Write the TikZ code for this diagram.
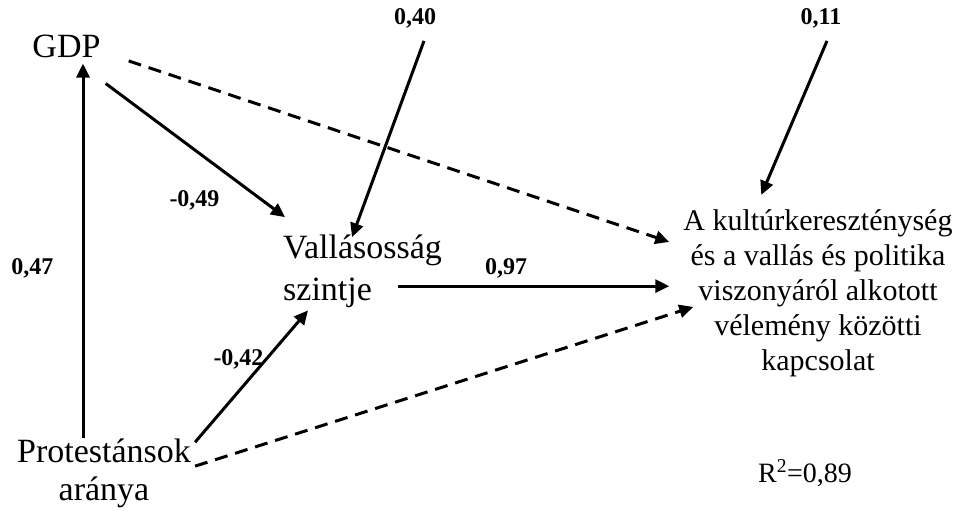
\documentclass[tikz,border=0pt]{standalone}
\usepackage{fontspec}
\setmainfont{Liberation Serif}
\usepackage{tikz}
\usetikzlibrary{arrows.meta}

\begin{document}
\begin{tikzpicture}[
        x=1pt, y=-1pt,
        arr/.style={-{Triangle[length=14pt,width=13pt]}, line width=3pt},
        dasharr/.style={arr, dash pattern=on 13pt off 8pt},
        var/.style={inner sep=0pt, font=\fontsize{34}{38}\selectfont},
        coef/.style={inner sep=0pt, anchor=base, font=\fontsize{24}{28}\selectfont\bfseries}
    ]
        \useasboundingbox (0,0) rectangle (956,511);

        % variables (base = last line)
        \node[var, anchor=base] (gdp) at (66.5,58) {GDP};
        \node[var, anchor=base west, align=left, font=\fontsize{34}{42}\selectfont] (vall) at (283,300) {Vallásosság\\szintje};
        \node[var, anchor=base, align=center] (prot) at (104,500) {Protestánsok\\aránya};
        \node[var, anchor=base, align=center, font=\fontsize{30}{35}\selectfont] (dv) at (818,370)
            {A kultúrkereszténység\\és a vallás és politika\\viszonyáról alkotott\\vélemény közötti\\kapcsolat};
        \node[var, anchor=base, font=\fontsize{28}{32}\selectfont] (r2) at (805,482) {R\textsuperscript{2}=0,89};

        % coefficients
        \node[coef] (e1) at (415,25) {0,40};
        \node[coef] (e2) at (821,25) {0,11};
        \node[coef] (c1) at (32.5,274) {0,47};
        \node[coef] (c2) at (194.5,206) {-0,49};
        \node[coef] (c3) at (238.5,365) {-0,42};
        \node[coef] (c4) at (506,274) {0,97};

        \coordinate (vs) at ([shift={(115,52)}]vall.north west);

        \draw[arr] ([xshift=-21pt]prot.north) -- ([shift={(16.5,5)}]gdp.south);
        \draw[arr] ([shift={(5,25)}]gdp.south east) -- ([shift={(2,-17)}]vall.north west);
        \draw[dasharr] ([shift={(28,14)}]gdp.east) -- ([shift={(-14,33)}]dv.north west);
        \draw[arr, shorten >=14pt] (vs) -- (vs -| dv.west);
        \draw[arr] ([shift={(4,4)}]prot.north east) -- ([shift={(25,3)}]vall.south west);
        \draw[dasharr] ([shift={(4,28)}]prot.north east) -- ([shift={(10,98)}]dv.north west);
        \draw[arr] ([shift={(9,12)}]e1.south) -- ([shift={(69,3)}]vall.north west);
        \draw[arr] ([shift={(6,12)}]e2.south) -- ([shift={(78,-14)}]dv.north west);
    \end{tikzpicture}
\end{document}
